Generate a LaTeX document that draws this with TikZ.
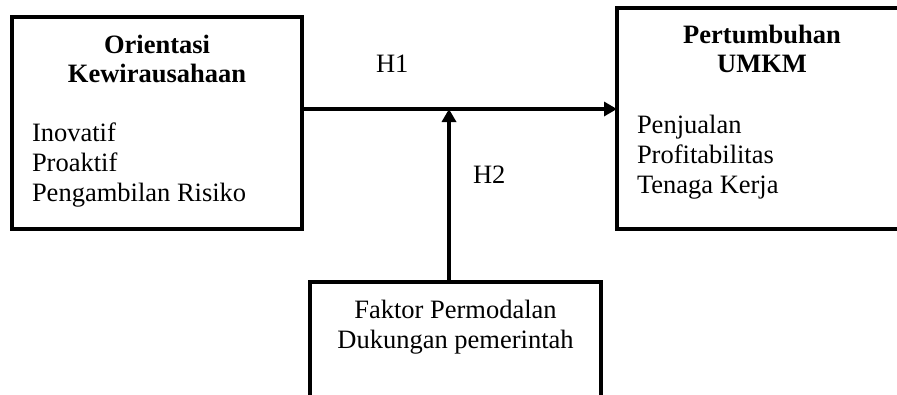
\documentclass[tikz,border=0pt]{standalone}
\usepackage{fontspec}
\setmainfont{Liberation Serif}
\usetikzlibrary{arrows.meta,positioning}
\tikzset{box/.style={
        draw,
        line width=4.5pt,
        inner sep=0pt,
        outer sep=0pt,
        anchor=north west,
    },
    txt/.style={
        inner sep=0pt,
        outer sep=0pt,
        font=\fontsize{26.5}{30}\selectfont,
    },
    head/.style={
        txt,
        font=\fontsize{26.5}{29}\selectfont\bfseries,
        align=center,
    },
    link/.style={
        line width=4.5pt,
        -{Triangle[length=13pt,width=14pt]},
    }
}

\begin{document}
\begin{tikzpicture}[x=1pt,y=-1pt]
  \useasboundingbox (0,0) rectangle (897,394);
  \clip (0,0) rectangle (897,394);
  % boxes
  \node[box, minimum width=290pt, minimum height=212pt] (obox) at (12,17) {};
  \node[box, minimum width=290pt, minimum height=221pt] (pbox) at (617,8) {};
  \node[box, minimum width=291pt, minimum height=150pt] (fbox) at (310,282) {};
  % texts
  \node[head, anchor=north] (ohead) [below=18pt of obox.north] {Orientasi\\Kewirausahaan};
  \node[txt, align=left, anchor=north west] (oitems) [below right=106pt and 20pt of obox.north west] {Inovatif\\Proaktif\\Pengambilan Risiko};
  \node[head, anchor=north] (phead) [below=17pt of pbox.north] {Pertumbuhan\\UMKM};
  \node[txt, align=left, anchor=north west] (pitems) [below right=107pt and 20pt of pbox.north west] {Penjualan\\Profitabilitas\\Tenaga Kerja};
  \node[txt, align=center, anchor=north] (fitems) [below=18pt of fbox.north] {Faktor Permodalan\\Dukungan pemerintah};
  \node[txt, anchor=base west] (h1) at (376,72) {H1};
  \node[txt, anchor=base west] (h2) at (473,183) {H2};
  % connectors
  \coordinate (hin) at (302,109);
  \coordinate (vin) at (449,282);
  \draw[link] (hin) -- (hin -| pbox.west);
  \draw[link] (vin) -- (vin |- hin);
\end{tikzpicture}
\end{document}
